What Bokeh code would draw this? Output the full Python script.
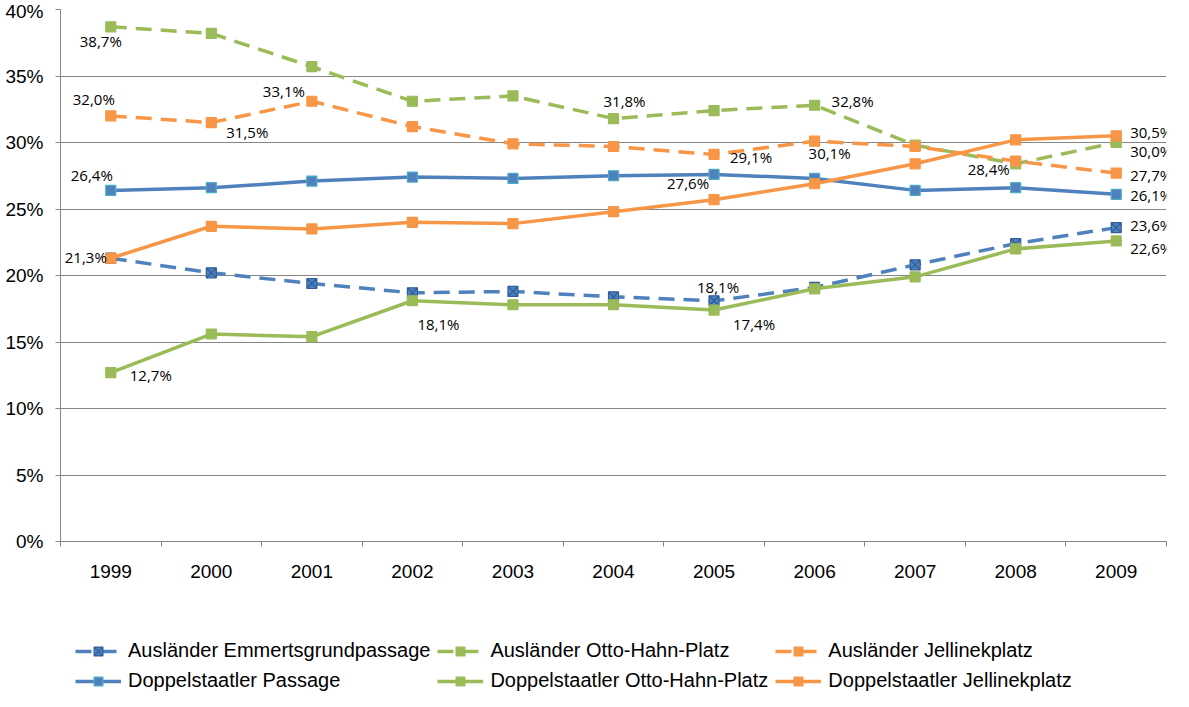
from bokeh.plotting import figure
from bokeh.layouts import column
from bokeh.models import (FactorRange, Range1d, LinearAxis, CategoricalAxis, FixedTicker,
                          Legend, LegendItem, LabelSet, ColumnDataSource)
from bokeh.core.properties import value
from bokeh.embed import file_html
from bokeh.resources import INLINE

# ---------------- data ----------------
years = ["1999", "2000", "2001", "2002", "2003", "2004", "2005", "2006", "2007", "2008", "2009"]

auslaender_emmertsgrund = [21.3, 20.2, 19.4, 18.7, 18.8, 18.4, 18.1, 19.1, 20.8, 22.4, 23.6]
auslaender_otto_hahn    = [38.7, 38.2, 35.7, 33.1, 33.5, 31.8, 32.4, 32.8, 29.8, 28.4, 30.0]
auslaender_jellinek     = [32.0, 31.5, 33.1, 31.2, 29.9, 29.7, 29.1, 30.1, 29.7, 28.6, 27.7]
doppel_passage          = [26.4, 26.6, 27.1, 27.4, 27.3, 27.5, 27.6, 27.3, 26.4, 26.6, 26.1]
doppel_otto_hahn        = [12.7, 15.6, 15.4, 18.1, 17.8, 17.8, 17.4, 19.0, 19.9, 22.0, 22.6]
doppel_jellinek         = [21.3, 23.7, 23.5, 24.0, 23.9, 24.8, 25.7, 26.9, 28.4, 30.2, 30.5]

series_names = ["Ausländer Emmertsgrundpassage", "Ausländer Otto-Hahn-Platz", "Ausländer Jellinekplatz",
                "Doppelstaatler Passage", "Doppelstaatler Otto-Hahn-Platz", "Doppelstaatler Jellinekplatz"]
series_values = [auslaender_emmertsgrund, auslaender_otto_hahn, auslaender_jellinek,
                 doppel_passage, doppel_otto_hahn, doppel_jellinek]

y_ticks = [0, 5, 10, 15, 20, 25, 30, 35, 40]
y_tick_labels = ["0%", "5%", "10%", "15%", "20%", "25%", "30%", "35%", "40%"]

# which points carry a data label: (series index, year)
labelled_points = [
    (0, "2005"), (0, "2009"),
    (1, "1999"), (1, "2004"), (1, "2006"), (1, "2008"), (1, "2009"),
    (2, "1999"), (2, "2000"), (2, "2001"), (2, "2005"), (2, "2006"), (2, "2009"),
    (3, "1999"), (3, "2005"), (3, "2009"),
    (4, "1999"), (4, "2002"), (4, "2005"), (4, "2009"),
    (5, "1999"), (5, "2009"),
]

# ---------------- styles ----------------
BLUE, GREEN, ORANGE = "#4F81BD", "#9BBB59", "#F79646"
GRID = "#868686"
styles = [
    dict(color=BLUE, dash="16 9", marker="square_x", mline="#2F5E9A"),
    dict(color=GREEN, dash="16 9", marker="square", mline=GREEN),
    dict(color=ORANGE, dash="16 9", marker="square", mline=ORANGE),
    dict(color=BLUE, dash="solid", marker="square", mline="#4BACC6"),
    dict(color=GREEN, dash="solid", marker="square", mline=GREEN),
    dict(color=ORANGE, dash="solid", marker="square", mline=ORANGE),
]
# label placement offsets in screen pixels (dx right, dy down)
label_offsets = {
    (0, "2005"): (4, -14), (0, "2009"): (35, -3),
    (1, "1999"): (-10, 14), (1, "2004"): (11, -18), (1, "2006"): (38, -4),
    (1, "2008"): (-27, 5), (1, "2009"): (35, 8),
    (2, "1999"): (-17, -17), (2, "2000"): (36, 9), (2, "2001"): (-28, -10),
    (2, "2005"): (37, 3), (2, "2006"): (15, 12), (2, "2009"): (35, 2),
    (3, "1999"): (-19, -15), (3, "2005"): (-26, 9), (3, "2009"): (35, 1),
    (4, "1999"): (40, 2), (4, "2002"): (26, 23), (4, "2005"): (40, 14), (4, "2009"): (35, 7),
    (5, "1999"): (-25, -1), (5, "2009"): (35, -4),
}

AXIS_FONT = "Liberation Sans"
W = 1173

# ---------------- main chart ----------------
p = figure(width=W, height=595, x_range=FactorRange(*years), y_range=Range1d(0, 40),
           x_axis_type=None, output_backend="svg", toolbar_location=None,
           min_border_left=60, min_border_right=7, min_border_top=9, min_border_bottom=54)
p.outline_line_color = None
p.background_fill_color = "white"

yax = p.yaxis[0]
yax.ticker = FixedTicker(ticks=y_ticks)
yax.major_label_overrides = {t: lab for t, lab in zip(y_ticks, y_tick_labels)}
yax.axis_line_color = GRID
yax.major_tick_line_color = GRID
yax.major_tick_out = 5
yax.major_tick_in = 0
yax.minor_tick_line_color = None
yax.major_label_text_font = AXIS_FONT
yax.major_label_text_font_size = "19px"
yax.major_label_text_color = "#000000"
yax.major_label_standoff = 12
p.ygrid.grid_line_color = GRID
p.ygrid.ticker = FixedTicker(ticks=y_ticks)

# x axis: tick marks on category boundaries (synthetic coordinates) + category labels
boundaries = list(range(len(years) + 1))
tick_axis = LinearAxis(ticker=FixedTicker(ticks=boundaries),
                       major_label_overrides={b: "" for b in boundaries},
                       major_label_text_font_size="1px", major_label_standoff=0,
                       axis_line_color=GRID, major_tick_line_color=GRID,
                       major_tick_out=5, major_tick_in=0, minor_tick_line_color=None)
p.add_layout(tick_axis, "below")
cat_axis = CategoricalAxis(axis_line_color=None, major_tick_line_color=None,
                           major_label_text_font=AXIS_FONT, major_label_text_font_size="19px",
                           major_label_text_color="#000000", major_label_standoff=12)
p.add_layout(cat_axis, "below")

for vals, st in zip(series_values, styles):
    src = ColumnDataSource(dict(x=years, y=vals))
    p.line("x", "y", source=src, line_color=st["color"], line_width=3.5,
           line_dash=st["dash"], line_join="round")
    p.scatter("x", "y", source=src, marker=st["marker"], size=10,
              fill_color=st["color"], line_color=st["mline"], line_width=1.2)

# data labels
lx, ly, lt, ldx, ldy = [], [], [], [], []
for si, yr in labelled_points:
    v = series_values[si][years.index(yr)]
    dx, dy = label_offsets[(si, yr)]
    lx.append(yr)
    ly.append(v)
    lt.append(f"{v:.1f}%".replace(".", ","))
    ldx.append(dx)
    ldy.append(-dy)
lab_src = ColumnDataSource(dict(x=lx, y=ly, text=lt, dx=ldx, dy=ldy))
labels = LabelSet(x="x", y="y", text="text", x_offset="dx", y_offset="dy", source=lab_src,
                  text_align="center", text_baseline="middle", text_font=value("Open Sans"),
                  text_font_size=value("15px"), text_color="#000000")
p.add_layout(labels)

# ---------------- legend strip (same series, drawn outside its own view) ----------------
lg = figure(width=W, height=96, x_range=FactorRange(*years), y_range=Range1d(-100, -90),
            x_axis_type=None, y_axis_type=None, output_backend="svg", toolbar_location=None,
            min_border_left=0, min_border_right=0, min_border_top=0, min_border_bottom=0)
lg.outline_line_color = None

items = []
for name, vals, st in zip(series_names, series_values, styles):
    src = ColumnDataSource(dict(x=years, y=vals))
    rl = lg.line("x", "y", source=src, line_color=st["color"], line_width=3.5,
                 line_dash=st["dash"], line_join="round")
    rm = lg.scatter("x", "y", source=src, marker=st["marker"], size=10,
                    fill_color=st["color"], line_color=st["mline"], line_width=1.2)
    items.append(LegendItem(label=name, renderers=[rl, rm]))

legend = Legend(items=items, location=(15, -1), orientation="horizontal", ncols=3,
                label_text_font=AXIS_FONT, label_text_font_size="20px", label_text_color="#000000",
                glyph_width=46, glyph_height=22, label_height=22, label_standoff=7,
                spacing=7, padding=0, margin=0, border_line_color=None, background_fill_alpha=0)
lg.add_layout(legend)

layout = column(p, lg, spacing=0)
open("out.html", "w").write(file_html(layout, INLINE))
